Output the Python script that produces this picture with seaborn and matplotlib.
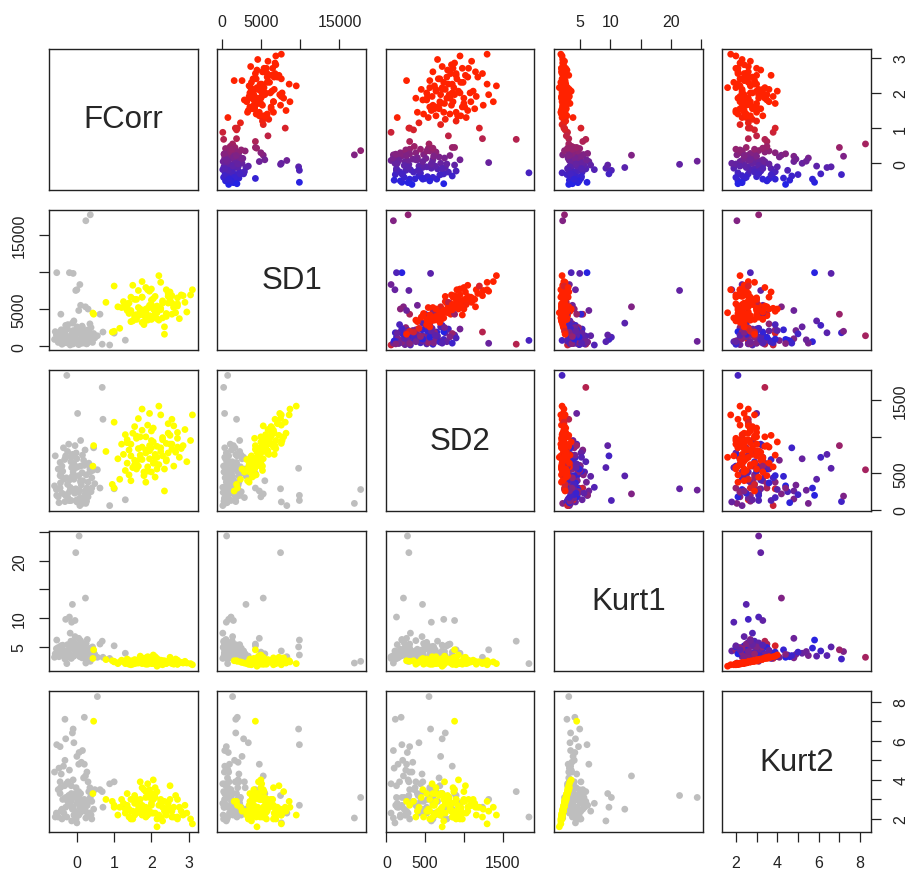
import matplotlib
matplotlib.use("Agg")
import matplotlib.pyplot as plt
import numpy as np
import pandas as pd
import seaborn as sns
from matplotlib.colors import LinearSegmentedColormap

# ----------------------------------------------------------------------------
# Data (read off the scatter matrix)
# group "B" = grey in the lower panels, "A" = yellow
# ----------------------------------------------------------------------------
VARS = ["FCorr", "SD1", "SD2", "Kurt1", "Kurt2"]

FCORR_B = [0.06, -0.03, 0.23, -0.12, -0.20, -0.30, -0.14, 0.24, 0.36, -0.54,
           -0.10, -0.20, 0.08, 0.00, -0.27, 0.68, 0.02, 0.70, 0.55, -0.32,
           0.20, -0.45, 0.88, 0.62, -0.43, 0.10, 0.30, 0.05, 1.00, 1.30,
           -0.05, -0.35, -0.20, 0.10, 0.30, -0.50, 0.00, -0.10, 0.20, -0.45,
           0.40, -0.25, 0.15, -0.05, 0.35, -0.60, 0.05, -0.30, 0.25, -0.15,
           0.45, -0.40, 0.12, -0.22, 0.28, -0.08, -0.55, 0.18, -0.38, 0.08,
           -0.12, 0.38, -0.28, 0.22, -0.48, 0.02, -0.18, 0.32, -0.32, 0.14,
           -0.02, 0.48, -0.42, 0.26, -0.16, 0.06, -0.58, 0.42, -0.24, 0.16,
           -0.36, 0.33, -0.06, 0.10, -0.44,
           -0.25, 0.05, -0.40, 0.20, -0.10, 0.35, -0.33, 0.00, -0.20, 0.15,
           -0.50, 0.27, -0.08, -0.30, 0.10, -0.45, 0.22, -0.15, 0.40, -0.02]
SD1_B = [640, 7500, 5300, 3100, 1200, 900, 600, 16900, 17700, 9900,
         9800, 9900, 8300, 7600, 770, 260, 380, 1900, 1400, 1800,
         2000, 600, 150, 4300, 4300, 5500, 5000, 4800, 1750, 800,
         1500, 1200, 800, 1600, 2200, 500, 2600, 300, 1000, 1900,
         700, 2300, 400, 1400, 3000, 900, 200, 2800, 1300, 650,
         1700, 250, 2100, 1100, 550, 3400, 1500, 750, 2000, 350,
         1800, 2500, 450, 1250, 700, 2400, 150, 900, 1650, 2700,
         600, 1100, 2200, 300, 1350, 850, 1950, 500, 2900, 1550,
         400, 1900, 1050, 2300, 800,
         1300, 700, 1600, 450, 2100, 1000, 550, 1750, 850, 2500,
         1200, 350, 1450, 2350, 600, 950, 1850, 400, 1300, 2050]
SD2_B = [272, 290, 220, 466, 130, 740, 580, 90, 280, 200,
         570, 130, 60, 110, 1840, 1676, 1320, 1240, 550, 115,
         190, 300, 60, 300, 500, 400, 180, 260, 290, 140,
         880, 420, 250, 600, 380, 180, 700, 520, 150, 650,
         300, 800, 90, 460, 560, 330, 240, 720, 480, 130,
         850, 600, 340, 900, 200, 420, 280, 680, 530, 160,
         760, 250, 440, 820, 100, 590, 310, 640, 210, 510,
         780, 360, 460, 120, 660, 270, 740, 540, 170, 400,
         850, 620, 230, 950, 370,
         350, 470, 230, 610, 280, 520, 690, 140, 410, 750,
         560, 300, 630, 200, 380, 470, 260, 720, 440, 580]
KURT1_B = [24.3, 21.4, 13.5, 12.4, 10.2, 9.8, 9.3, 2.2, 2.5, 6.2,
           5.0, 3.6, 3.3, 4.3, 2.1, 6.0, 4.5, 3.2, 3.2, 2.9,
           4.2, 4.8, 3.0, 5.5, 5.2, 3.8, 4.1, 6.5, 5.2, 3.9,
           9.6, 4.2, 3.6, 5.1, 3.3, 4.6, 3.9, 5.8, 3.1, 4.0,
           4.4, 5.4, 3.5, 6.8, 3.8, 3.2, 4.9, 4.3, 5.6, 3.0,
           4.1, 5.0, 3.7, 4.5, 6.3, 3.4, 4.7, 3.2, 5.3, 4.0,
           3.5, 4.8, 3.9, 5.5, 3.3, 4.4, 7.4, 3.6, 4.1, 3.1,
           5.2, 3.7, 4.5, 3.4, 6.0, 4.2, 3.8, 5.0, 3.3, 4.6,
           3.5, 4.0, 5.7, 3.9, 4.3,
           4.0, 3.6, 4.4, 5.0, 3.4, 4.7, 3.9, 5.4, 3.2, 4.2,
           4.9, 3.7, 4.5, 3.5, 6.1, 4.1, 3.3, 5.3, 3.8, 4.4]
KURT2_B = [3.1, 3.2, 4.2, 2.5, 3.1, 2.6, 1.9, 2.05, 3.1, 5.8,
           6.6, 2.7, 2.3, 1.8, 2.1, 3.4, 3.0, 2.6, 8.26, 7.1,
           7.2, 5.7, 3.8, 3.5, 2.4, 3.3, 2.2, 4.8, 3.9, 2.6,
           3.3, 2.3, 4.5, 2.8, 3.9, 2.1, 5.2, 2.6, 4.8, 3.3,
           2.0, 3.0, 5.5, 2.4, 3.6, 4.4, 2.2, 6.1, 2.9, 3.7,
           2.5, 2.0, 4.9, 3.2, 2.7, 5.9, 2.3, 4.1, 3.0, 2.6,
           6.4, 2.2, 3.8, 2.5, 4.6, 3.1, 2.8, 3.4, 5.0, 2.4,
           2.0, 3.5, 4.3, 2.7, 2.9, 5.4, 2.1, 3.3, 3.9, 2.6,
           4.7, 2.3, 3.1, 2.8, 3.6,
           2.9, 3.4, 2.5, 3.0, 4.0, 2.3, 3.7, 2.8, 3.2, 2.6,
           3.5, 4.4, 2.2, 3.1, 2.7, 3.9, 2.4, 3.3, 2.9, 3.6]

FCORR_A = [1.85, 2.10, 1.60, 2.40, 1.95, 1.30, 2.70, 1.75, 2.20, 1.50,
           2.05, 1.40, 2.55, 1.90, 2.30, 1.15, 2.85, 1.70, 2.00, 1.55,
           2.45, 1.80, 2.15, 1.25, 2.60, 1.65, 2.25, 1.45, 2.75, 1.95,
           3.05, 1.35, 2.35, 1.10, 2.90, 1.85, 2.50, 1.60, 2.10, 1.75,
           2.20, 0.95, 2.65, 1.50, 2.00, 1.20, 2.40, 1.70, 2.80, 1.90,
           2.30, 1.40, 1.00, 2.55, 1.80, 2.15, 1.55, 2.95, 1.30, 2.70,
           1.65, 2.05, 1.45, 2.45, 1.95, 3.10, 0.78, 0.43, 1.00, 0.45,
           2.35, 1.85, 2.25, 1.60, 2.60, 1.75, 2.00, 1.35, 2.50, 2.10,
           1.70, 2.00, 1.55, 2.30, 1.85, 2.40, 1.60, 2.15, 1.95, 2.55,
           1.45, 2.05, 1.75, 2.25, 1.90, 2.70, 1.35, 2.10, 1.65, 2.45]
SD1_A = [4600, 6700, 3600, 7600, 4100, 5200, 5700, 6600, 3500, 8200,
         6400, 4400, 4300, 5100, 3800, 2400, 6800, 5000, 7700, 4200,
         7100, 2900, 5400, 6000, 5200, 7500, 8600, 6600, 3700, 5500,
         6900, 4800, 2600, 5300, 5900, 3500, 7300, 4200, 3900, 8700,
         9500, 1900, 4500, 3400, 6200, 5200, 4000, 4700, 6900, 7600,
         5800, 5800, 2000, 6800, 4100, 4500, 6300, 4600, 5600, 6500,
         4100, 5000, 3300, 5800, 7400, 7600, 5900, 4460, 8100, 4300,
         1600, 7900, 4900, 4200, 5300, 3200, 3600, 5400, 6300, 5000,
         4300, 5600, 3900, 6100, 5000, 4400, 6300, 3700, 5300, 5800,
         4800, 4000, 6600, 5100, 3500, 5400, 5700, 4600, 5200, 6700]
SD2_A = [820, 760, 640, 910, 700, 540, 980, 860, 620, 1050,
         1120, 480, 830, 590, 740, 420, 880, 1000, 950, 680,
         1180, 520, 870, 760, 600, 1250, 1300, 900, 720, 810,
         950, 640, 560, 700, 1100, 380, 1020, 980, 450, 1380,
         1420, 350, 790, 580, 1080, 900, 670, 750, 840, 1160,
         990, 820, 300, 1240, 470, 720, 1140, 660, 1030, 1060,
         600, 930, 400, 780, 1320, 1300, 800, 600, 1200, 880,
         260, 1000, 850, 560, 1150, 690, 520, 960, 900, 640,
         700, 850, 620, 960, 780, 690, 1010, 560, 880, 900,
         740, 640, 1090, 800, 530, 860, 920, 720, 840, 1050]
KURT1_A = [2.4, 2.2, 2.6, 2.1, 2.9, 2.3, 2.0, 3.1, 2.5, 2.2,
           2.7, 2.0, 2.3, 3.3, 1.9, 2.4, 2.2, 2.6, 2.1, 2.8,
           2.4, 2.2, 3.0, 2.5, 2.0, 2.3, 2.6, 1.9, 2.4, 2.7,
           2.1, 2.9, 2.3, 2.1, 2.5, 2.0, 3.2, 2.2, 2.8, 2.4,
           2.1, 2.6, 2.9, 2.0, 2.4, 2.7, 2.2, 3.4, 2.3, 2.0,
           2.6, 2.3, 2.5, 2.1, 3.0, 1.65, 2.5, 2.2, 2.1, 2.7,
           2.4, 3.6, 2.2, 2.5, 2.3, 1.9, 2.8, 3.0, 2.4, 4.5,
           2.6, 3.1, 2.0, 2.7, 2.4, 2.1, 2.9, 2.2, 2.6, 3.3,
           2.3, 2.6, 2.1, 2.4, 2.8, 2.2, 2.5, 2.0, 3.2, 2.3,
           2.6, 2.1, 2.4, 2.7, 2.2, 2.0, 2.5, 2.9, 2.2, 2.4]
KURT2_A = [2.6, 2.3, 2.9, 2.2, 3.3, 2.5, 2.0, 3.6, 2.7, 2.4,
           3.0, 2.1, 2.5, 3.8, 1.9, 2.6, 2.2, 3.0, 2.3, 3.2,
           2.6, 2.4, 3.4, 2.8, 2.1, 2.5, 2.9, 2.0, 2.6, 3.1,
           2.0, 3.3, 2.4, 2.2, 2.7, 2.1, 3.7, 2.3, 3.1, 2.6,
           2.2, 2.9, 3.2, 2.0, 2.7, 3.0, 2.4, 3.9, 2.4, 2.2,
           2.9, 2.5, 2.7, 2.1, 3.5, 1.6, 2.8, 2.3, 2.3, 3.0,
           2.7, 4.0, 2.4, 2.8, 2.4, 1.75, 3.0, 3.3, 2.6, 7.0,
           2.9, 3.4, 2.1, 3.0, 2.6, 2.2, 3.3, 2.5, 3.0, 3.6,
           2.5, 2.8, 2.2, 2.6, 3.1, 2.3, 2.9, 2.0, 3.5, 2.4,
           3.0, 2.3, 2.7, 3.0, 2.4, 2.1, 2.7, 3.3, 2.4, 2.6]

TICKS = {
    "FCorr": ([0, 1, 2, 3], ["0", "1", "2", "3"]),
    "SD1": ([0, 5000, 10000, 15000], ["0", "5000", "", "15000"]),
    "SD2": ([0, 500, 1000, 1500], ["0", "500", "", "1500"]),
    "Kurt1": ([5, 10, 15, 20, 25], ["5", "10", "", "20", ""]),
    "Kurt2": ([2, 3, 4, 5, 6, 7, 8], ["2", "", "4", "", "6", "", "8"]),
}

df = pd.DataFrame({
    "FCorr": FCORR_B + FCORR_A,
    "SD1": SD1_B + SD1_A,
    "SD2": SD2_B + SD2_A,
    "Kurt1": KURT1_B + KURT1_A,
    "Kurt2": KURT2_B + KURT2_A,
    "group": ["B"] * len(FCORR_B) + ["A"] * len(FCORR_A),
})

# ----------------------------------------------------------------------------
# Style
# ----------------------------------------------------------------------------
sns.set_style("white")
plt.rcParams["font.family"] = ["Liberation Sans", "DejaVu Sans"]

blue_red = LinearSegmentedColormap.from_list("bluered", ["#2222E6", "#FF2200"])
lower_pal = {"A": "#FFFF00", "B": "#BEBEBE"}

fig, axes = plt.subplots(5, 5, figsize=(9.07, 8.70), dpi=100)
fig.subplots_adjust(left=49 / 907, right=871 / 907, bottom=1 - 833 / 870,
                    top=1 - 50 / 870, wspace=0.13, hspace=0.142)

lims = {}
for v in VARS:
    lo, hi = df[v].min(), df[v].max()
    pad = 0.04 * (hi - lo)
    lims[v] = (lo - pad, hi + pad)

n = len(VARS)
for i, yv in enumerate(VARS):
    for j, xv in enumerate(VARS):
        ax = axes[i, j]
        if i == j:
            ax.text(0.5, 0.5, yv, transform=ax.transAxes, ha="center",
                    va="center", fontsize=22.5)
        elif j > i:
            sns.scatterplot(data=df, x=xv, y=yv, hue="FCorr", palette=blue_red,
                            hue_norm=(-0.6, 1.35), s=24, linewidth=0,
                            legend=False, ax=ax)
        else:
            sns.scatterplot(data=df, x=xv, y=yv, hue="group", palette=lower_pal,
                            s=24, linewidth=0, legend=False, ax=ax)
        ax.set_xlim(lims[xv])
        ax.set_ylim(lims[yv])
        ax.set_xlabel("")
        ax.set_ylabel("")
        ax.set_xticks([])
        ax.set_yticks([])
        for sp in ax.spines.values():
            sp.set_visible(True)
            sp.set_color("#222222")
            sp.set_linewidth(1.0)

        tick_kw = dict(length=7, width=0.9, color="#222222", labelsize=11.5,
                       labelcolor="#222222")
        # x axes: top for odd columns (1, 3), bottom for even (0, 2, 4)
        if i == 0 and j % 2 == 1:
            t, lab = TICKS[xv]
            ax.xaxis.tick_top()
            ax.set_xticks(t)
            ax.set_xticklabels(lab)
            ax.tick_params(axis="x", pad=7.5, **tick_kw)
        if i == n - 1 and j % 2 == 0:
            t, lab = TICKS[xv]
            ax.xaxis.tick_bottom()
            ax.set_xticks(t)
            ax.set_xticklabels(lab)
            ax.tick_params(axis="x", pad=9.5, **tick_kw)
        # y axes: left for odd rows (1, 3), right for even (0, 2, 4)
        if j == 0 and i % 2 == 1:
            t, lab = TICKS[yv]
            ax.yaxis.tick_left()
            ax.set_yticks(t)
            ax.set_yticklabels(lab, rotation=90, va="center")
            ax.tick_params(axis="y", pad=9, **tick_kw)
        if j == n - 1 and i % 2 == 0:
            t, lab = TICKS[yv]
            ax.yaxis.tick_right()
            ax.set_yticks(t)
            ax.set_yticklabels(lab, rotation=90, va="center")
            ax.tick_params(axis="y", pad=9, **tick_kw)

fig.savefig("out.png", dpi=100, facecolor="white")
